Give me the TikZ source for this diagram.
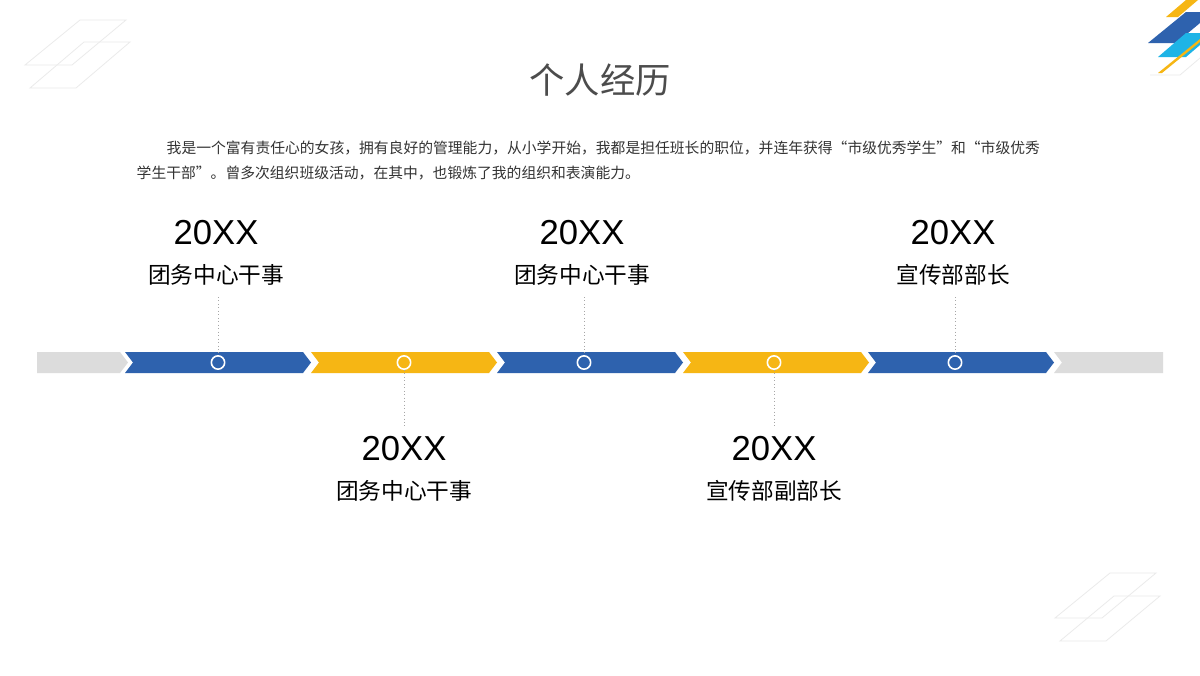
\documentclass[tikz,border=0pt]{standalone}
\usepackage{fontspec}
\setmainfont{Noto Sans CJK SC}
\newfontfamily\latn{Liberation Sans}
\definecolor{cblue}{HTML}{2E62AE}
\definecolor{cyel}{HTML}{F6B614}
\definecolor{cgray}{HTML}{DCDCDC}
\definecolor{ccyan}{HTML}{1EB4E6}
\definecolor{ctxt}{HTML}{333333}
\begin{document}
\begin{tikzpicture}[x=0.75pt,y=-0.75pt,
  deco/.style={draw=black!8,line width=0.6pt},
  yr/.style={font=\latn\fontsize{26}{28}\selectfont,text=black},
  lab/.style={font=\fontsize{17}{20}\selectfont,text=black},
  ring/.style={circle,draw=white,line width=1.2pt,minimum size=10pt,inner sep=0pt},
  vline/.style={draw=black!35,dotted,line width=0.6pt}]
\useasboundingbox (0,0) rectangle (1200,675);
\fill[white] (0,0) rectangle (1200,675);
% corner decorations
\draw[deco] (25,65)--(72,65)--(126,20)--(80,20)--cycle;
\draw[deco] (30,88)--(76,88)--(130,42)--(84,42)--cycle;
\draw[deco] (1055,618)--(1102,618)--(1156,573)--(1110,573)--cycle;
\draw[deco] (1060,641)--(1106,641)--(1160,596)--(1114,596)--cycle;
\draw[deco] (1150,75)--(1180,75)--(1200,58);
\fill[cyel] (1166,17)--(1178,17)--(1198,0)--(1186,0)--cycle;
\fill[cblue] (1148,43)--(1176,43)--(1200,23)--(1200,12)--(1186,12)--cycle;
\fill[ccyan] (1158,57)--(1186,57)--(1200,45)--(1200,33)--(1186,33)--cycle;
\fill[cyel] (1158,73)--(1162,73)--(1200,42)--(1200,39)--cycle;
% title and paragraph
\node[font=\fontsize{26.5}{30}\selectfont,text=black!70] (title) at (600,80) {个人经历};
\node[anchor=west,font=\fontsize{11.1}{13}\selectfont,text=ctxt] (p1) at (162,148) {我是一个富有责任心的女孩，拥有良好的管理能力，从小学开始，我都是担任班长的职位，并连年获得“市级优秀学生”和“市级优秀};
\node[anchor=west,font=\fontsize{11.1}{13}\selectfont,text=ctxt] (p2) at (132,173) {学生干部”。曾多次组织班级活动，在其中，也锻炼了我的组织和表演能力。};
% timeline
\fill[cgray] (37,352)--(120,352)--(128,362.5)--(120,373)--(37,373)--cycle;
\foreach \x/\c in {125/cblue,311/cyel,497/cblue,683/cyel,868/cblue}{
  \fill[\c] (\x,352)--(\x+178,352)--(\x+186,362.5)--(\x+178,373)--(\x,373)--(\x+8,362.5)--cycle;}
\fill[cgray] (1054,352)--(1163,352)--(1163,373)--(1054,373)--(1062,362.5)--cycle;
\node[ring] (r1) at (218,362.5) {};
\node[ring] (r2) at (404,362.5) {};
\node[ring] (r3) at (584,362.5) {};
\node[ring] (r4) at (774,362.5) {};
\node[ring] (r5) at (955,362.5) {};
\coordinate (t1) at (218,297); \coordinate (t3) at (584,297); \coordinate (t5) at (955,297);
\coordinate (b2) at (404,428); \coordinate (b4) at (774,428);
\draw[vline] (t1)--(r1); \draw[vline] (t3)--(r3); \draw[vline] (t5)--(r5);
\draw[vline] (r2)--(b2); \draw[vline] (r4)--(b4);
\node[yr] (y1) at (216,233) {20XX}; \node[lab] (l1) at (216,275) {团务中心干事};
\node[yr] (y3) at (582,233) {20XX}; \node[lab] (l3) at (582,275) {团务中心干事};
\node[yr] (y5) at (953,233) {20XX}; \node[lab] (l5) at (953,275) {宣传部部长};
\node[yr] (y2) at (404,449) {20XX}; \node[lab] (l2) at (404,491) {团务中心干事};
\node[yr] (y4) at (774,449) {20XX}; \node[lab] (l4) at (774,491) {宣传部副部长};
\end{tikzpicture}
\end{document}
